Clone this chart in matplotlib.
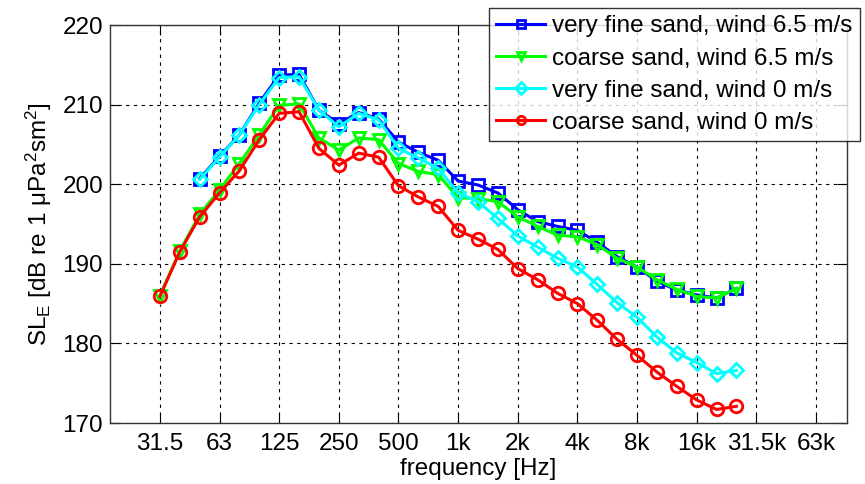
import numpy as np
import matplotlib
matplotlib.use("Agg")
import matplotlib.pyplot as plt

plt.rcParams['font.family'] = ['Liberation Sans', 'DejaVu Sans']
plt.rcParams['mathtext.default'] = 'regular'

# third-octave band centres, 31.5 Hz .. 25 kHz (exact base-2 values)
band_index = np.arange(-15, 15)
freq = 1000.0 * 2.0 ** (band_index / 3.0)

# SL_E values (dB re 1 uPa^2 s m^2)
fine_wind65 = [np.nan, np.nan, 200.7, 203.5, 206.2, 210.2, 213.7, 213.8, 209.3, 207.6,
               209.0, 208.2, 205.3, 204.0, 203.0, 200.4, 199.9, 198.9, 196.8, 195.3,
               194.7, 194.2, 192.7, 190.9, 189.6, 187.8, 186.7, 186.1, 185.7, 186.9]
coarse_wind65 = [186.0, 191.6, 196.2, 199.3, 202.6, 206.2, 209.9, 210.1, 205.8, 204.3,
                 205.8, 205.6, 202.6, 201.6, 201.2, 198.3, 198.2, 197.8, 195.9, 194.7,
                 193.6, 193.4, 192.4, 190.7, 189.6, 188.0, 186.8, 185.9, 185.7, 186.9]
fine_wind0 = [np.nan, np.nan, 200.6, 203.4, 206.2, 210.0, 213.4, 213.5, 209.3, 207.2,
              208.9, 208.1, 204.5, 203.3, 202.0, 198.9, 197.8, 195.7, 193.5, 192.1,
              190.7, 189.6, 187.4, 185.1, 183.3, 180.8, 178.8, 177.6, 176.2, 176.6]
coarse_wind0 = [185.9, 191.5, 195.9, 198.9, 201.7, 205.6, 208.9, 209.1, 204.5, 202.4,
                203.9, 203.4, 199.8, 198.4, 197.2, 194.2, 193.1, 191.8, 189.4, 188.0,
                186.3, 185.0, 182.9, 180.5, 178.5, 176.4, 174.6, 172.9, 171.7, 172.1]

tick_freq = 1000.0 * 2.0 ** np.arange(-5, 7)
tick_labels = ['31.5', '63', '125', '250', '500', '1k', '2k', '4k', '8k', '16k', '31.5k', '63k']

series = [
    (fine_wind65, 'very fine sand, wind 6.5 m/s', (0, 0, 1), 's'),
    (coarse_wind65, 'coarse sand, wind 6.5 m/s', (0, 1, 0), 'v'),
    (fine_wind0, 'very fine sand, wind 0 m/s', (0, 1, 1), 'D'),
    (coarse_wind0, 'coarse sand, wind 0 m/s', (1, 0, 0), 'o'),
]

fs = 17.5
fig = plt.figure(figsize=(8.65, 4.84), dpi=100)
ax = fig.add_axes([110 / 865, 61 / 484, 737 / 865, 398 / 484])

for vals, label, col, mk in series:
    ms = 7 if mk == 'D' else 9
    ax.plot(freq, vals, color=col, lw=2.2, marker=mk, ms=ms, mfc='none',
            mec=col, mew=2, label=label)

ax.set_xscale('log')
ax.set_xlim(17.5, 91800)
ax.set_ylim(170, 220)
ax.set_xticks(tick_freq)
ax.set_xticklabels(tick_labels)
ax.minorticks_off()
ax.set_yticks(np.arange(170, 221, 10))
ax.tick_params(direction='in', top=True, right=True, labelsize=fs, length=7)
ax.tick_params(axis='x', pad=7)
ax.tick_params(axis='y', pad=5)
ax.grid(True, color='black', linestyle=(0, (3, 4)), lw=0.8)
for sp in ax.spines.values():
    sp.set_color('#333333')
    sp.set_linewidth(1)

ax.set_xlabel('frequency [Hz]', fontsize=fs, labelpad=2)
ax.set_ylabel('SL$_E$ [dB re 1 μPa$^2$sm$^2$]', fontsize=fs, labelpad=6)

leg = fig.legend(loc='upper right', bbox_to_anchor=(860 / 865, 1 - 8 / 484),
                 fontsize=fs, frameon=True, fancybox=False, edgecolor='black',
                 handlelength=2.0, borderpad=0.3, labelspacing=0.42, handletextpad=0.3,
                 borderaxespad=0)
leg.get_frame().set_linewidth(1)
for h in leg.legend_handles:
    h.set_markersize(6)

fig.savefig('out.png', dpi=100)
